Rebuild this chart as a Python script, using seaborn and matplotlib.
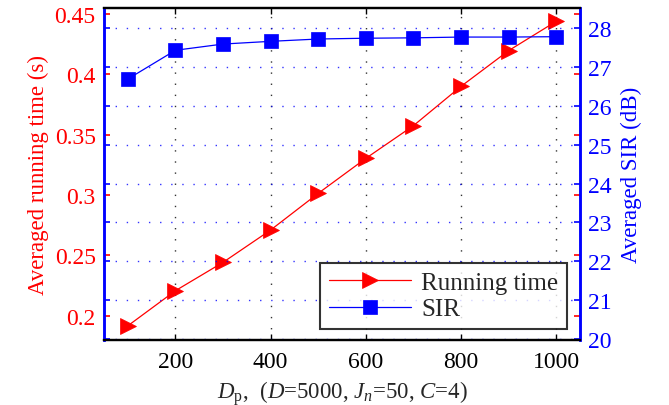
import numpy as np
import matplotlib
matplotlib.use("Agg")
import matplotlib.pyplot as plt
import seaborn as sns

# values
dp = [100, 200, 300, 400, 500, 600, 700, 800, 900, 1000]
run_time = [0.1915, 0.2206, 0.2441, 0.2709, 0.3013, 0.3303, 0.3574, 0.390, 0.4196, 0.4439]
sir_db = [26.69, 27.43, 27.59, 27.66, 27.72, 27.74, 27.75, 27.77, 27.77, 27.78]
x_ticks = [200, 400, 600, 800, 1000]
rt_ticks = [0.2, 0.25, 0.3, 0.35, 0.4, 0.45]
rt_labels = ["0.2", "0.25", "0.3", "0.35", "0.4", "0.45"]
sir_ticks = [20, 21, 22, 23, 24, 25, 26, 27, 28]

sns.set_style("white")
plt.rcParams["font.family"] = ["Liberation Serif", "DejaVu Serif"]
plt.rcParams["mathtext.fontset"] = "custom"
plt.rcParams["mathtext.rm"] = "Liberation Serif"
plt.rcParams["mathtext.it"] = "Liberation Serif:italic"

red = "#ff0000"
blue = "#0000ff"

fig = plt.figure(figsize=(6.69, 4.06), dpi=100)
ax1 = fig.add_axes([0.1555, 0.160, 0.7115, 0.818])
ax2 = ax1.twinx()

sns.lineplot(x=dp, y=run_time, ax=ax1, color=red, marker=">", markersize=11,
             markeredgecolor=red, markeredgewidth=0.5, linewidth=0.9, legend=False)
sns.lineplot(x=dp, y=sir_db, ax=ax2, color=blue, marker="s", markersize=9.5,
             markeredgecolor=blue, markeredgewidth=0.5, linewidth=0.9, legend=False)

ax1.set_xlim(50, 1050)
ax1.set_ylim(0.1797, 0.455)
ax2.set_ylim(19.97, 28.52)

ax1.set_xticks(x_ticks)
ax1.set_yticks(rt_ticks)
ax1.set_yticklabels(rt_labels)
ax2.set_yticks(sir_ticks)

# grids: black dotted verticals, blue dotted horizontals
ax1.grid(False)
ax2.grid(False)
ax1.xaxis.grid(True, color="#333333", linestyle=(0, (1, 7)), linewidth=1.0)
ax2.yaxis.grid(True, color=blue, linestyle=(0, (1, 7)), linewidth=1.0, alpha=0.8)

ax1.tick_params(axis="x", direction="in", top=True, bottom=True, length=4,
                width=1, colors="black", labelsize=17, pad=8)
ax1.tick_params(axis="y", direction="in", left=True, right=True, labelleft=True,
                labelright=False, length=4, width=1.2, colors=red, labelsize=17, pad=6)
ax2.tick_params(axis="y", direction="in", left=True, right=True, labelleft=False,
                labelright=True, length=4, width=1.2, colors=blue, labelsize=17, pad=6)

for ax in (ax1, ax2):
    ax.spines["top"].set_color("black")
    ax.spines["bottom"].set_color("black")
    ax.spines["top"].set_linewidth(1.6)
    ax.spines["bottom"].set_linewidth(1.6)
    ax.spines["left"].set_color(blue)
    ax.spines["right"].set_color(blue)
    ax.spines["left"].set_linewidth(1.8)
    ax.spines["right"].set_linewidth(1.8)

ax1.set_ylabel("Averaged running time (s)", color=red, fontsize=16.5, labelpad=4)
ax2.set_ylabel("Averaged SIR (dB)", color=blue, fontsize=16.5, labelpad=6)
ax1.set_xlabel(r"$D_{\mathrm{p}}$,  ($D$=5000, $J_n$=50, $C$=4)", fontsize=16.5, labelpad=4)

handles = [ax1.lines[0], ax2.lines[0]]
leg = ax2.legend(handles, ["Running time", "SIR"], loc="lower right",
                 bbox_to_anchor=(0.973, 0.033), fontsize=18, frameon=True,
                 fancybox=False, edgecolor="black", handlelength=3.3,
                 borderpad=0.35, labelspacing=0.15, handletextpad=0.4, borderaxespad=0)
leg.get_frame().set_linewidth(1.5)

fig.savefig("out.png", dpi=100)
